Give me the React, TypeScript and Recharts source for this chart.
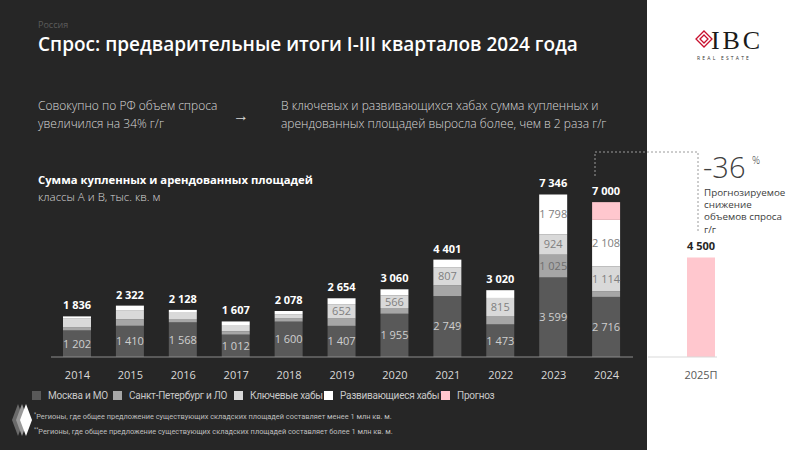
import React from 'react';
import { BarChart, Bar, XAxis, YAxis, LabelList } from 'recharts';

const years = ['2014', '2015', '2016', '2017', '2018', '2019', '2020', '2021', '2022', '2023', '2024'];
const moscow = [1202, 1410, 1568, 1012, 1600, 1407, 1955, 2749, 1473, 3599, 2716];
const spb = [150, 290, 150, 150, 138, 330, 259, 485, 380, 1025, 260];
const keyHubs = [380, 420, 280, 285, 200, 652, 566, 807, 815, 924, 1114];
const devHubs = [104, 202, 130, 160, 140, 265, 280, 360, 352, 1798, 2108];
const forecast = [0, 0, 0, 0, 0, 0, 0, 0, 0, 0, 802];
const totals = [1836, 2322, 2128, 1607, 2078, 2654, 3060, 4401, 3020, 7346, 7000];

// which segments carry a value label on the slide
const spbLabeled = ['2023'];
const keyLabeled = ['2019', '2020', '2021', '2022', '2023', '2024'];
const devLabeled = ['2023', '2024'];

const nextYear = ['2025П'];
const nextForecast = [4500];

const C = {
  bg: '#262626',
  moscow: '#595959',
  spb: '#a6a6a6',
  key: '#d9d9d9',
  dev: '#ffffff',
  forecast: '#ffc7ce',
};

const FONT = '"Open Sans", "Noto Sans", sans-serif';
const NARROW = 'Roboto, "Open Sans", sans-serif';

const fmt = (v: number) => {
  const s = String(v);
  return s.length > 3 ? s.slice(0, s.length - 3) + '\u00a0' + s.slice(-3) : s;
};

const data = years.map((year, i) => ({
  year,
  moscow: moscow[i],
  spb: spb[i],
  keyHubs: keyHubs[i],
  devHubs: devHubs[i],
  forecast: forecast[i],
  total: totals[i],
}));

const data2 = nextYear.map((year, i) => ({ year, forecast: nextForecast[i], total: nextForecast[i] }));

const segLabel = (shown: string[] | null, color: string) => (props: any) => {
  const vb = props.viewBox || props;
  const { x, y, width, height } = vb;
  if (shown && !shown.includes(years[props.index])) return null;
  return (
    <text
      x={x + width / 2}
      y={y + height / 2}
      dy="0.35em"
      textAnchor="middle"
      fill={color}
      fontSize={11}
      fontFamily={FONT}
    >
      {fmt(Number(props.value))}
    </text>
  );
};

// total above the stack; `skip` decides which bar of the stack draws it
const totalLabel = (color: string, skip?: (i: number) => boolean) => (props: any) => {
  const vb = props.viewBox || props;
  const { x, y, width } = vb;
  if (skip && skip(props.index)) return null;
  return (
    <text
      x={x + width / 2}
      y={y - 7}
      textAnchor="middle"
      fill={color}
      fontSize={11}
      fontWeight={700}
      fontFamily={FONT}
    >
      {fmt(Number(props.value))}
    </text>
  );
};

const legendItems = [
  { name: 'Москва и МО', mark: '', color: C.moscow, x: 32 },
  { name: 'Санкт-Петербург и ЛО', mark: '', color: C.spb, x: 113 },
  { name: 'Ключевые хабы', mark: '**', color: C.key, x: 234 },
  { name: 'Развивающиеся хабы', mark: '*', color: C.dev, x: 324 },
  { name: 'Прогноз', mark: '', color: C.forecast, x: 441 },
];

export default function App() {
  return (
    <div
      style={{
        position: 'fixed',
        left: 0,
        top: 0,
        width: 800,
        height: 450,
        background: '#ffffff',
        fontFamily: FONT,
        overflow: 'hidden',
      }}
    >
      <div style={{ position: 'absolute', left: 0, top: 0, width: 647, height: 450, background: C.bg }} />

      <div style={{ position: 'absolute', left: 38, top: 18, fontSize: 9, color: '#5c5c5c' }}>Россия</div>
      <div style={{ position: 'absolute', left: 38, top: 31, fontSize: 19, fontWeight: 600, color: '#ffffff', whiteSpace: 'nowrap' }}>
        Спрос: предварительные итоги I-III кварталов 2024 года
      </div>

      <div style={{ position: 'absolute', left: 38, top: 97, fontSize: 12, fontWeight: 300, color: '#d9d9d9', lineHeight: '18px' }}>
        Совокупно по РФ объем спроса
        <br />
        увеличился на 34% г/г
      </div>
      <div style={{ position: 'absolute', left: 233, top: 104, fontSize: 16, fontWeight: 300, color: '#d9d9d9' }}>→</div>
      <div style={{ position: 'absolute', left: 281, top: 97, fontSize: 12, fontWeight: 300, color: '#d9d9d9', lineHeight: '18px', whiteSpace: 'nowrap' }}>
        В ключевых и развивающихся хабах сумма купленных и
        <br />
        арендованных площадей выросла более, чем в 2 раза г/г
      </div>

      <div style={{ position: 'absolute', left: 38, top: 172, fontSize: 11.3, fontWeight: 700, color: '#ffffff', whiteSpace: 'nowrap' }}>
        Сумма купленных и арендованных площадей
      </div>
      <div style={{ position: 'absolute', left: 38, top: 189, fontSize: 11.5, fontWeight: 300, color: '#d9d9d9' }}>
        классы А и В, тыс. кв. м
      </div>

      <div style={{ position: 'absolute', left: 0, top: 0 }}>
        <BarChart width={647} height={390} data={data} margin={{ top: 180, right: 14, bottom: 17, left: 51 }} barSize={28}>
          <XAxis
            dataKey="year"
            height={16}
            tickLine={false}
            axisLine={{ stroke: '#8c8c8c' }}
            tickMargin={8}
            tick={{ fill: '#d9d9d9', fontSize: 11, fontFamily: FONT }}
            interval={0}
          />
          <YAxis hide domain={[0, 8000]} />
          <Bar dataKey="moscow" stackId="a" fill={C.moscow} isAnimationActive={false}>
            <LabelList dataKey="moscow" content={segLabel(null, '#cfcfcf')} />
          </Bar>
          <Bar dataKey="spb" stackId="a" fill={C.spb} isAnimationActive={false}>
            <LabelList dataKey="spb" content={segLabel(spbLabeled, '#6e6e6e')} />
          </Bar>
          <Bar dataKey="keyHubs" stackId="a" fill={C.key} isAnimationActive={false}>
            <LabelList dataKey="keyHubs" content={segLabel(keyLabeled, '#808080')} />
          </Bar>
          <Bar dataKey="devHubs" stackId="a" fill={C.dev} isAnimationActive={false}>
            <LabelList dataKey="devHubs" content={segLabel(devLabeled, '#808080')} />
            <LabelList dataKey="total" content={totalLabel('#ffffff', (i) => forecast[i] > 0)} />
          </Bar>
          <Bar dataKey="forecast" stackId="a" fill={C.forecast} isAnimationActive={false}>
            <LabelList dataKey="total" content={totalLabel('#ffffff')} />
          </Bar>
        </BarChart>
      </div>

      <div style={{ position: 'absolute', left: 647, top: 0 }}>
        <BarChart width={153} height={390} data={data2} margin={{ top: 180, right: 83, bottom: 17, left: 1 }} barSize={28}>
          <XAxis
            dataKey="year"
            height={16}
            tickLine={false}
            axisLine={{ stroke: '#d9d9d9' }}
            tickMargin={8}
            padding={{ left: 37, right: 0 }}
            tick={{ fill: '#595959', fontSize: 11, fontFamily: FONT }}
          />
          <YAxis hide domain={[0, 8000]} />
          <Bar dataKey="forecast" stackId="a" fill={C.forecast} isAnimationActive={false}>
            <LabelList dataKey="total" content={totalLabel('#262626')} />
          </Bar>
        </BarChart>
      </div>

      {/* annotation: dashed connector, logos */}
      <svg width={800} height={450} style={{ position: 'absolute', left: 0, top: 0, pointerEvents: 'none' }}>
        <path d="M595 176 V152 H698 V233" fill="none" stroke="#9a9a9a" strokeWidth={1} strokeDasharray="2 2" />
        <polygon points="12,420 18,404 24,420 18,436" fill="#6a6a6a" />
        <polygon points="16,420 22,404 28,420 22,436" fill="#9a9a9a" />
        <polygon points="20,420 26,404 32,420 26,436" fill="#ffffff" />
        <g fill="none" stroke="#c8102e" strokeWidth={1.3}>
          <polygon points="704,31 712,39 704,47 696,39" />
          <polygon points="704,35 708,39 704,43 700,39" />
        </g>
        <text x={711} y={49} fontFamily='"Liberation Serif", serif' fontSize={26} fill="#1a1a1a" textLength={49}>IBC</text>
        <text x={697} y={60} fontFamily={FONT} fontSize={5} letterSpacing={2.2} fill="#333333">REAL ESTATE</text>
      </svg>

      <div style={{ position: 'absolute', left: 703, top: 155, fontSize: 29, fontWeight: 300, color: '#404040', lineHeight: '24px' }}>-36</div>
      <div style={{ position: 'absolute', left: 752, top: 155, fontSize: 10, fontWeight: 300, color: '#404040', lineHeight: '10px' }}>%</div>
      <div style={{ position: 'absolute', left: 704, top: 187, fontSize: 9.8, color: '#404040', lineHeight: '12.2px', width: 96 }}>
        Прогнозируемое
        <br />
        снижение
        <br />
        объемов спроса
        <br />
        г/г
      </div>

      {legendItems.map((it) => (
        <div key={it.name} style={{ position: 'absolute', left: it.x, top: 388, height: 14, display: 'flex', alignItems: 'center' }}>
          <div style={{ width: 9, height: 9, background: it.color, marginRight: 7 }} />
          <span style={{ fontSize: 10, fontFamily: NARROW, letterSpacing: -0.25, color: '#c8c8c8', whiteSpace: 'nowrap' }}>
            {it.name}
            {it.mark && <sup style={{ fontSize: 6, marginLeft: 1 }}>{it.mark}</sup>}
          </span>
        </div>
      ))}

      <div style={{ position: 'absolute', left: 34, top: 408, fontSize: 7.4, fontFamily: NARROW, color: '#bfbfbf', lineHeight: '13px', whiteSpace: 'nowrap' }}>
        <sup style={{ fontSize: 5 }}>*</sup>Регионы, где общее предложение существующих складских площадей составляет менее 1 млн кв. м.
        <br />
        <sup style={{ fontSize: 5 }}>**</sup>Регионы, где общее предложение существующих складских площадей составляет более 1 млн кв. м.
      </div>
    </div>
  );
}
